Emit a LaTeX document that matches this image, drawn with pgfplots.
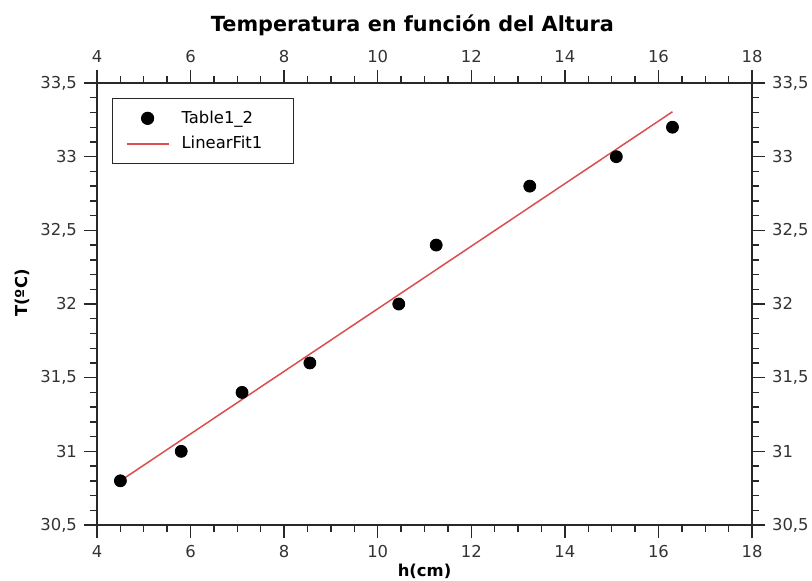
\documentclass[border=0pt]{standalone}
\usepackage{fontspec}
\setmainfont{DejaVu Sans}
\usepackage{pgfplots}
\pgfplotsset{compat=1.18}
\definecolor{fitred}{RGB}{218,78,78}
\definecolor{axgray}{RGB}{40,40,40}

\pgfplotsset{
  tempaxis/.style={
    scale only axis, width=327.5pt, height=221pt,
    xmin=4, xmax=18, ymin=30.5, ymax=33.5,
    xtick={4,6,...,18}, ytick={30.5,31,...,33.5},
    minor x tick num=3, minor y tick num=4,
    tick align=outside,
    major tick length=6.5pt, minor tick length=3.5pt,
    every tick/.style={axgray, line width=0.7pt},
    axis line style={axgray, line width=0.7pt},
    /pgf/number format/assume math mode=true,
    /pgf/number format/use comma,
    tick label style={font=\fontsize{8.2}{10}\selectfont, text=black!80},
  },
  dotlegend/.style={legend image code/.code={\path[draw=none] (0pt,0pt) -- (28.5pt,0pt);\draw[##1] plot[only marks] coordinates {(13.5pt,0pt)};}},
  linelegend/.style={legend image code/.code={\path[draw=none] (0pt,0pt) -- (28.5pt,0pt);\draw[##1] (3pt,0pt) -- (24pt,0pt);}},
}

\begin{document}
\begin{tikzpicture}
\useasboundingbox (-48.5pt,-27.5pt) rectangle (357.5pt,262.5pt);
\begin{axis}[
    tempaxis,
    xlabel={\bfseries h(cm)},
    ylabel={\bfseries T(ºC)},
    xlabel style={at={(axis description cs:0.5,0)}, anchor=base, yshift=-25.5pt, font=\fontsize{8.2}{10}\selectfont},
    ylabel style={at={(axis description cs:0,0.5)}, anchor=base, xshift=5.5pt, yshift=34.5pt, font=\fontsize{8.2}{10}\selectfont},
    legend cell align=left,
    legend style={at={(axis description cs:0,1)}, anchor=north west, xshift=7.5pt, yshift=-7.5pt,
      draw=axgray, line width=0.6pt, inner xsep=4pt, inner ysep=4pt,
      font=\fontsize{8.2}{10}\selectfont, row sep=1pt,
      text width=50pt},
]
\addplot[only marks, mark=*, mark size=3pt, black, dotlegend]
  coordinates {
  (4.5,30.8)(5.8,31.0)(7.1,31.4)(8.55,31.6)(10.45,32.0)
  (11.25,32.4)(13.25,32.8)(15.1,33.0)(16.3,33.2)
  };
\addlegendentry{Table1\_2}
\addplot[fitred, line width=0.75pt, linelegend]
  coordinates {(4.5,30.80)(16.3,33.305)};
\addlegendentry{LinearFit1}
\end{axis}
\begin{axis}[
    tempaxis,
    xticklabel pos=right, yticklabel pos=right,
    title={\bfseries Temperatura en función del Altura},
    title style={at={(axis description cs:0.5,1)}, anchor=base, xshift=-6pt, yshift=20pt, font=\fontsize{10.4}{12}\selectfont},
]
\addplot[draw=none] coordinates {(4,30.5)};
\end{axis}
\end{tikzpicture}
\end{document}
